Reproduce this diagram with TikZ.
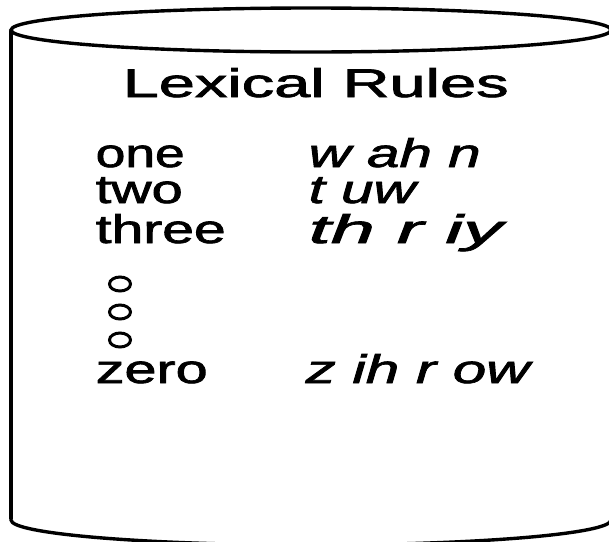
\documentclass[tikz,border=0pt]{standalone}
\usepackage{fontspec}
\setmainfont{Liberation Sans}
\newfontfamily\heavy[FakeBold=1.6]{Liberation Sans}
\newfontfamily\heavyit[FakeBold=1.6]{Liberation Sans Italic}
\usepackage{graphicx}
\begin{document}
\begin{tikzpicture}[x=1pt,y=1pt,line width=3.4pt,
  lbl/.style={inner sep=0pt, anchor=base west, font=\heavy\fontsize{40}{48}\selectfont},
  ilbl/.style={inner sep=0pt, anchor=base west, font=\heavyit\fontsize{40}{48}\selectfont},
  dotring/.style={line width=3pt}]
\useasboundingbox (0,0) rectangle (609,-541);
\begin{scope}
\clip (0,0) rectangle (609,-541);
\draw (311,-30) ellipse [x radius=300, y radius=22];
\draw (611,-30) -- (611,-520) arc[start angle=0, end angle=-180, x radius=300, y radius=25] -- (11,-30);
\draw[line width=4.6pt] (11,-31) -- (11,-519);
\end{scope}
\node[lbl] (title) at (121,-97) {\resizebox{386pt}{\height}{Lexical Rules}};
\node[lbl] (one) at (94,-167) {\resizebox{89pt}{\height}{one}};
\node[lbl] (two) at (94,-203) {\resizebox{87pt}{\height}{two}};
\node[lbl] (three) at (94,-243) {\resizebox{130pt}{\height}{three}};
\node[lbl] (zero) at (94,-383) {\resizebox{112pt}{\height}{zero}};
\node[ilbl] (pone) at (307,-167) {\resizebox{172pt}{\height}{w ah n}};
\node[ilbl] (ptwo) at (307,-203) {\resizebox{107pt}{\height}{t uw}};
\node[ilbl] (pthree) at (307,-243) {\resizebox{194pt}{\height}{th r iy}};
\node[ilbl] (pzero) at (304,-383) {\resizebox{224pt}{\height}{z ih r ow}};
\draw[dotring] (120,-284) ellipse [x radius=10.5, y radius=7];
\draw[dotring] (120,-312) ellipse [x radius=10.5, y radius=7];
\draw[dotring] (120,-340) ellipse [x radius=10.5, y radius=7];
\end{tikzpicture}
\end{document}
